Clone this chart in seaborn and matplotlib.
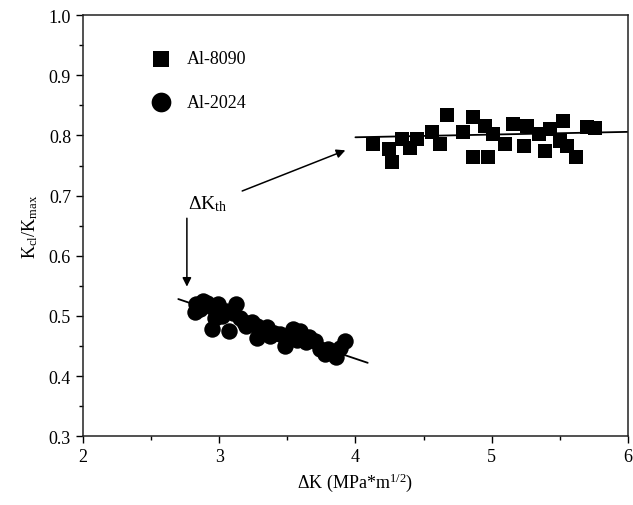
import matplotlib
matplotlib.use("Agg")
import matplotlib.pyplot as plt
from matplotlib.ticker import MultipleLocator, FormatStrFormatter
import seaborn as sns

# Al-8090 (squares)
al8090_dk = [4.13, 4.27, 4.25, 4.34, 4.40, 4.45, 4.56, 4.62, 4.67, 4.79, 4.86, 4.86,
             4.97, 4.95, 5.01, 5.10, 5.16, 5.26, 5.24, 5.35, 5.39, 5.43, 5.52, 5.50,
             5.55, 5.62, 5.70, 5.76]
al8090_k = [0.785, 0.756, 0.777, 0.794, 0.780, 0.794, 0.805, 0.785, 0.834, 0.805, 0.830, 0.764,
            0.764, 0.815, 0.802, 0.785, 0.819, 0.815, 0.782, 0.802, 0.774, 0.810, 0.824, 0.790,
            0.782, 0.764, 0.814, 0.812]

# Al-2024 (circles)
al2024_dk = [2.83, 2.82, 2.86, 2.91, 2.99, 2.97, 2.95, 3.05, 3.07, 3.12, 3.15, 3.20,
             3.24, 3.28, 3.28, 3.35, 3.37, 3.45, 3.48, 3.54, 3.59, 3.64, 3.70, 3.74,
             3.78, 3.86, 3.89, 3.92, 3.02, 3.10, 3.40, 3.66, 2.88, 2.95, 3.00, 3.18,
             3.30, 3.50, 3.57, 3.80]
al2024_k = [0.519, 0.506, 0.512, 0.522, 0.519, 0.497, 0.478, 0.508, 0.475, 0.519, 0.497, 0.483,
            0.490, 0.483, 0.464, 0.481, 0.467, 0.470, 0.450, 0.478, 0.475, 0.456, 0.458, 0.445,
            0.436, 0.431, 0.447, 0.458, 0.500, 0.505, 0.472, 0.465, 0.525, 0.515, 0.505, 0.490,
            0.475, 0.465, 0.460, 0.445]

# fitted trend lines
fit8090_dk = [4.0, 6.0]
fit8090_k = [0.797, 0.806]
fit2024_dk = [2.70, 4.09]
fit2024_k = [0.528, 0.422]

sns.set_style("ticks")
plt.rcParams["font.family"] = ["Liberation Serif", "DejaVu Serif"]
plt.rcParams["mathtext.fontset"] = "custom"
plt.rcParams["mathtext.rm"] = "Liberation Serif"
plt.rcParams["mathtext.it"] = "Liberation Serif:italic"
for key in ["text.color", "axes.labelcolor", "xtick.color", "ytick.color"]:
    plt.rcParams[key] = "black"

fig = plt.figure(figsize=(6.33, 5.06), dpi=100)
ax = fig.add_axes([0.131, 0.136, 0.861, 0.832])

sns.lineplot(x=fit8090_dk, y=fit8090_k, color="black", lw=1.3, ax=ax)
sns.lineplot(x=fit2024_dk, y=fit2024_k, color="black", lw=1.3, ax=ax)
sns.scatterplot(x=al8090_dk, y=al8090_k, marker="s", color="black", s=95,
                linewidth=0, label="Al-8090", ax=ax, zorder=3)
sns.scatterplot(x=al2024_dk, y=al2024_k, marker="o", color="black", s=140,
                linewidth=0, label="Al-2024", ax=ax, zorder=3)

ax.set_xlim(2, 6)
ax.set_ylim(0.3, 1.0)
ax.xaxis.set_major_locator(MultipleLocator(1))
ax.xaxis.set_minor_locator(MultipleLocator(0.5))
ax.yaxis.set_major_locator(MultipleLocator(0.1))
ax.yaxis.set_minor_locator(MultipleLocator(0.05))
ax.yaxis.set_major_formatter(FormatStrFormatter("%.1f"))
ax.tick_params(which="major", direction="out", length=5, width=1, labelsize=13,
               top=False, right=False)
ax.tick_params(which="minor", direction="out", length=3, width=1,
               top=False, right=False)
for sp in ax.spines.values():
    sp.set_linewidth(1.1)
    sp.set_color("#222222")

ax.set_xlabel(r"$\Delta$K (MPa*m$^{1/2}$)", fontsize=13, labelpad=4)
ax.set_ylabel(r"K$_{\mathrm{cl}}$/K$_{\mathrm{max}}$", fontsize=13, labelpad=6)

ax.legend(loc="upper left", frameon=False, fontsize=13, markerscale=1.2,
          bbox_to_anchor=(0.08, 0.955), labelspacing=1.45, handletextpad=0.45)

ax.text(2.77, 0.688, r"$\Delta$K$_{\mathrm{th}}$", fontsize=14, ha="left", va="center")
ax.annotate("", xy=(3.945, 0.777), xytext=(3.15, 0.706),
            arrowprops=dict(arrowstyle="-|>", color="black", lw=1.1, mutation_scale=13))
ax.annotate("", xy=(2.763, 0.544), xytext=(2.763, 0.667),
            arrowprops=dict(arrowstyle="-|>", color="black", lw=1.1, mutation_scale=13))

fig.savefig("out.png", dpi=100)
